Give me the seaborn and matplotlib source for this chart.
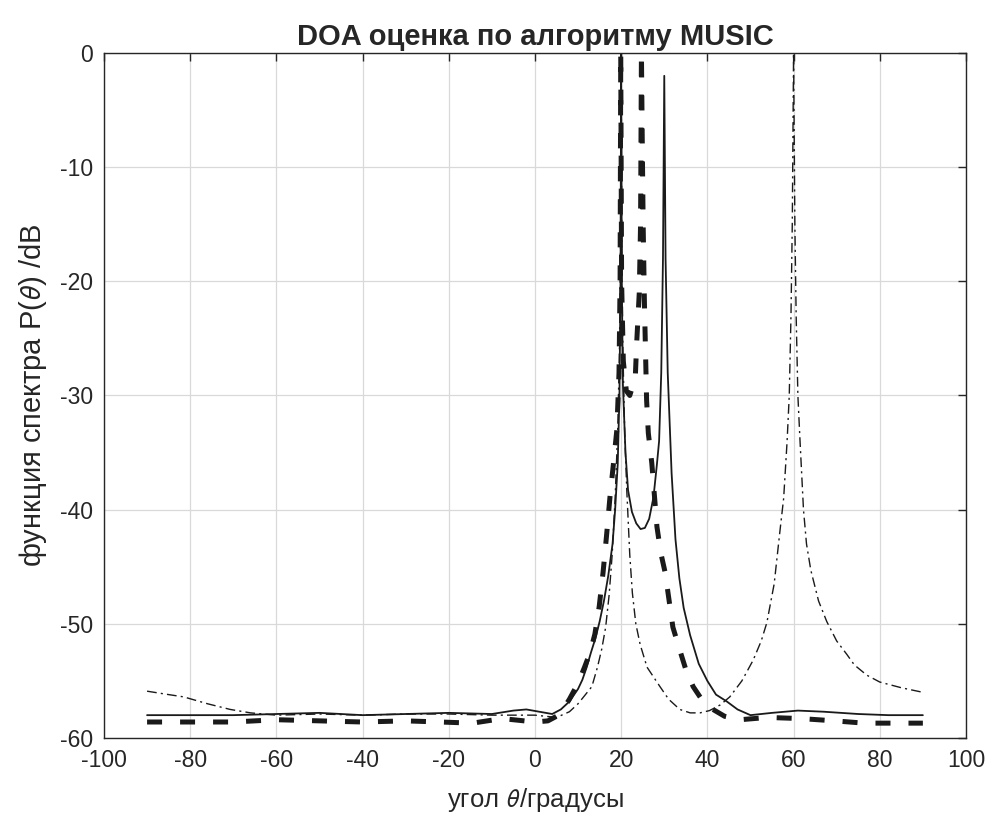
import numpy as np
import pandas as pd
import seaborn as sns
import matplotlib.pyplot as plt

# spectrum for sources at 20 and 30 deg (solid)
theta_a = [-90, -80, -70, -60, -50, -40, -30, -20, -10, -5, -2, 1, 4, 6, 8, 10, 11, 12, 13,
           14, 15, 16, 17, 18, 18.6, 19.2, 19.6, 19.85, 20, 20.15, 20.4, 21, 21.6, 22.5, 23.5,
           24.5, 25.5, 26.5, 27.5, 28.3, 28.8, 29.3, 29.7, 30, 30.3, 30.8, 31.7, 32.6, 33.5,
           34.5, 36, 38, 40, 42, 44.5, 47, 50, 55, 61, 67, 75, 82, 90]
p_a = [-58, -58, -58, -57.9, -57.8, -58, -57.9, -57.8, -57.9, -57.6, -57.5, -57.7, -57.9,
       -57.5, -56.8, -55.7, -54.9, -53.8, -52.5, -51.3, -49.8, -48, -45.8, -43, -40, -36,
       -30, -20, 0, -20, -29, -35, -38.3, -40.2, -41.2, -41.7, -41.6, -40.8, -38.9, -36,
       -34, -28, -18, -2, -18, -28, -36.8, -42.6, -46, -48.6, -51, -53.5, -55, -56.2, -56.8,
       -57.5, -58, -57.8, -57.6, -57.7, -57.9, -58, -58]

# spectrum for sources at 20 and 25 deg (thick dashed)
theta_b = [-90, -80, -70, -60, -50, -40, -30, -22, -14.5, -7.6, 0, 3, 5, 6.5, 8, 10, 11.5,
           12.8, 13.9, 14.9, 15.8, 16.6, 17.4, 18.2, 19, 19.5, 19.75, 19.9, 20.1, 20.5, 21.2,
           22, 22.8, 23.3, 23.6, 24.2, 24.5, 24.7, 24.9, 25.1, 25.4, 25.9, 26.3, 27.1, 28.3,
           29.2, 30.2, 32, 33.6, 35, 36.7, 39, 41.3, 44, 47.6, 54, 61.7, 69.5, 76.4, 84, 90]
p_b = [-58.6, -58.6, -58.6, -58.4, -58.5, -58.6, -58.5, -58.6, -58.7, -58.3, -58.6, -58.5,
       -58.1, -57.5, -56.6, -55.2, -53.8, -52.5, -50.9, -48.5, -45.5, -42.3, -38.9, -36,
       -33, -28, -20, 0, -20, -27, -29.6, -30, -29, -28.2, -25.4, -21, -15, 0, -8, -15,
       -22, -30.4, -33.3, -35.9, -41.5, -43.8, -45.5, -50.3, -52.3, -54, -55.5, -56.8,
       -57.5, -58.1, -58.4, -58.2, -58.3, -58.5, -58.7, -58.7, -58.7]

# spectrum for sources at 20 and 60 deg (dash-dot)
theta_c = [-90, -85, -81.5, -76, -70.7, -66, -60, -50, -40, -30, -20, -10, 0, 5, 8, 10,
           11.5, 13.2, 14.5, 15.5, 16.4, 17.2, 17.9, 18.6, 19.2, 19.6, 19.85, 20, 20.15,
           20.4, 20.8, 21.3, 22, 22.6, 23.4, 24.4, 26, 29, 31, 33.6, 36, 38.3, 40.5, 43,
           45.2, 48, 50.6, 52.5, 53.8, 55.5, 56.8, 57.7, 58.5, 59, 59.4, 59.7, 60, 60.3,
           60.6, 61, 61.5, 62.3, 63, 64, 65.8, 67.7, 70, 72.4, 74.1, 77, 80, 85, 90]
p_c = [-55.9, -56.2, -56.4, -57, -57.5, -57.8, -58, -57.9, -58, -57.9, -57.9, -58, -58,
       -58.2, -57.7, -57, -56.3, -55.5, -53.8, -52.2, -50.3, -47.5, -44, -39, -33, -26,
       -17, 0, -17, -26, -33, -38.3, -44, -47.3, -50, -51.8, -53.8, -55.5, -56.6, -57.5,
       -57.8, -57.8, -57.6, -57.1, -56.4, -55, -53.2, -51.5, -49.9, -46.5, -42, -39, -34,
       -30, -23, -15, 0, -15, -23, -30, -34, -40, -43, -45.3, -48, -49.8, -51.5, -52.7,
       -53.6, -54.5, -55.1, -55.6, -56]

x_ticks = [-100, -80, -60, -40, -20, 0, 20, 40, 60, 80, 100]
y_ticks = [-60, -50, -40, -30, -20, -10, 0]

sns.set_theme(style="whitegrid")
plt.rcParams['font.family'] = ['Liberation Sans', 'DejaVu Sans']
plt.rcParams['mathtext.fontset'] = 'stixsans'
plt.rcParams['axes.unicode_minus'] = False

fig = plt.figure(figsize=(9.94, 8.23), dpi=100)
ax = fig.add_axes([0.1046, 0.1033, 0.8672, 0.8323])

sns.lineplot(x=theta_a, y=p_a, ax=ax, color='k', linewidth=1.3, sort=False)
sns.lineplot(x=theta_b, y=p_b, ax=ax, color='k', linewidth=3.6, sort=False,
             linestyle=(0, (3, 3.6)))
sns.lineplot(x=theta_c, y=p_c, ax=ax, color='k', linewidth=1.0, sort=False,
             linestyle=(0, (7, 3, 1.5, 3)))

ax.set_xlim(-100, 100)
ax.set_ylim(-60, 0)
ax.set_xticks(x_ticks)
ax.set_yticks(y_ticks)
ax.grid(True, color='#d9d9d9', linewidth=0.9)
for s in ax.spines.values():
    s.set_color('#262626')
    s.set_linewidth(1.0)
ax.tick_params(direction='in', length=6, width=1, colors='#262626', labelsize=16.5,
               top=True, right=True, pad=8)
for lab in ax.get_xticklabels() + ax.get_yticklabels():
    lab.set_color('#262626')

ax.set_title('DOA оценка по алгоритму MUSIC', fontsize=21, fontweight='bold', pad=6)
ax.set_xlabel(r'угол $\theta$/градусы', fontsize=18.5, color='#262626', labelpad=10)
ax.set_ylabel(r'функция спектра P($\theta$) /dB', fontsize=21, color='#262626',
              labelpad=8)

fig.savefig('out.png', dpi=100)
